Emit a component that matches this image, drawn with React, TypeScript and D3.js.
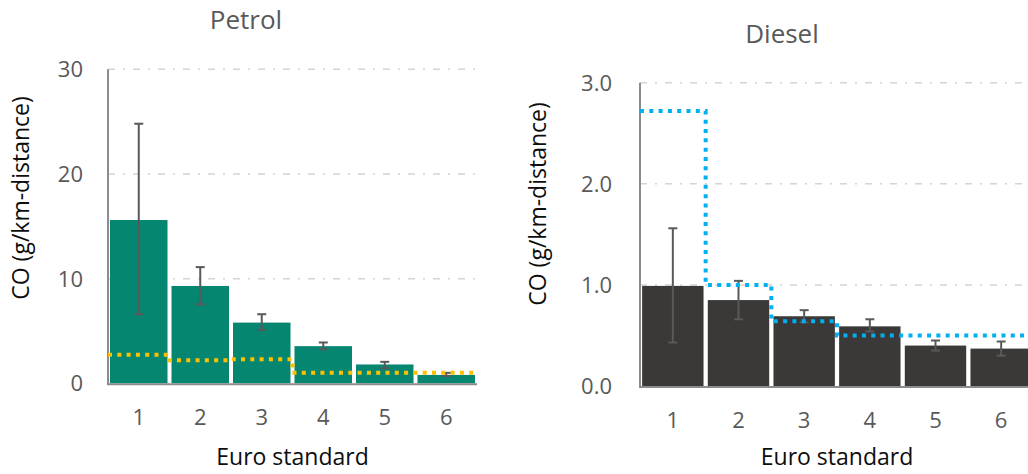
import React from "react";
import * as d3 from "d3";

// Euro standards on the x axis
const euroStandards = ["1", "2", "3", "4", "5", "6"];

// Petrol: mean CO per km and the spread shown by the error bars
const petrolMean = [15.6, 9.3, 5.8, 3.55, 1.8, 0.8];
const petrolHigh = [24.8, 11.1, 6.6, 3.9, 2.05, 1.0];
const petrolLow = [6.6, 7.55, 5.1, 3.25, 1.45, 0.7];
// Type-approval limits for petrol cars (g/km)
const petrolLimit = [2.72, 2.2, 2.3, 1.0, 1.0, 1.0];
const petrolTicks = [0, 10, 20, 30];

// Diesel: mean CO per km and error-bar spread
const dieselMean = [0.99, 0.85, 0.69, 0.59, 0.4, 0.37];
const dieselHigh = [1.56, 1.04, 0.75, 0.66, 0.45, 0.44];
const dieselLow = [0.43, 0.66, 0.63, 0.54, 0.35, 0.3];
// Type-approval limits for diesel cars (g/km)
const dieselLimit = [2.72, 1.0, 0.64, 0.5, 0.5, 0.5];
const dieselTicks = [0, 1, 2, 3];

const FONT = "'Open Sans', 'Segoe UI', sans-serif";

type PanelProps = {
  title: string;
  titleX: number;
  titleY: number;
  left: number;
  right: number;
  top: number;
  bottom: number;
  yMax: number;
  ticks: number[];
  tickFmt: (v: number) => string;
  tickRight: number;
  yTitleX: number;
  yTitleY: number;
  xTickY: number;
  mean: number[];
  high: number[];
  low: number[];
  limit: number[];
  barColor: string;
  limitColor: string;
};

function Panel(p: PanelProps) {
  const x = d3
    .scaleBand<string>()
    .domain(euroStandards)
    .range([p.left, p.right])
    .paddingInner(0.065)
    .paddingOuter(0.0325);
  const y = d3.scaleLinear().domain([0, p.yMax]).range([p.bottom, p.top]);

  const step = x.step();
  const start = p.left;
  // Limit values as a step line across each Euro band
  const stepPts: [number, number][] = p.limit.map((v, i) => [start + i * step, y(v)]);
  stepPts.push([p.right, y(p.limit[p.limit.length - 1])]);
  const stepPath = d3.line().curve(d3.curveStepAfter)(stepPts) || "";

  const cx = (c: string) => (x(c) as number) + x.bandwidth() / 2;
  const capW = 4.5;

  return (
    <g>
      <text
        x={p.titleX}
        y={p.titleY}
        textAnchor="middle"
        fontSize={26}
        fill="#595959"
        fontFamily={FONT}
      >
        {p.title}
      </text>

      {/* horizontal gridlines */}
      {p.ticks
        .filter((t) => t > 0)
        .map((t) => (
          <line
            key={"g" + t}
            x1={p.left}
            x2={p.right}
            y1={y(t)}
            y2={y(t)}
            stroke="#d4d4d4"
            strokeWidth={1.5}
            strokeDasharray="7 8 2 8"
          />
        ))}

      {/* y tick labels */}
      {p.ticks.map((t) => (
        <text
          key={"t" + t}
          x={p.tickRight}
          y={y(t)}
          dy="0.36em"
          textAnchor="end"
          fontSize={22}
          fill="#595959"
          fontFamily={FONT}
        >
          {p.tickFmt(t)}
        </text>
      ))}

      {/* bars */}
      {euroStandards.map((c, i) => (
        <rect
          key={"b" + c}
          x={x(c)}
          y={y(p.mean[i])}
          width={x.bandwidth()}
          height={y(0) - y(p.mean[i])}
          fill={p.barColor}
        />
      ))}

      {/* error bars */}
      {euroStandards.map((c, i) => (
        <g key={"e" + c} stroke="#595959" strokeWidth={2}>
          <line x1={cx(c)} x2={cx(c)} y1={y(p.high[i])} y2={y(p.low[i])} />
          <line x1={cx(c) - capW} x2={cx(c) + capW} y1={y(p.high[i])} y2={y(p.high[i])} />
          <line x1={cx(c) - capW} x2={cx(c) + capW} y1={y(p.low[i])} y2={y(p.low[i])} />
        </g>
      ))}

      {/* axes */}
      <line x1={p.left} x2={p.left} y1={p.top} y2={p.bottom + 1} stroke="#8c8c8c" strokeWidth={2} />
      <line x1={p.left - 1} x2={p.right} y1={p.bottom + 1} y2={p.bottom + 1} stroke="#8c8c8c" strokeWidth={2} />

      {/* limit step line */}
      <path
        d={stepPath}
        fill="none"
        stroke={p.limitColor}
        strokeWidth={4}
        strokeDasharray="4 5.3"
      />

      {/* x tick labels */}
      {euroStandards.map((c) => (
        <text
          key={"x" + c}
          x={cx(c)}
          y={p.xTickY}
          textAnchor="middle"
          fontSize={22}
          fill="#595959"
          fontFamily={FONT}
        >
          {c}
        </text>
      ))}

      <text
        x={(p.left + p.right) / 2}
        y={465}
        textAnchor="middle"
        fontSize={23}
        fill="#0d0d0d"
        fontFamily={FONT}
      >
        Euro standard
      </text>

      <text
        transform={`translate(${p.yTitleX},${p.yTitleY}) rotate(-90)`}
        textAnchor="middle"
        fontSize={23}
        fill="#0d0d0d"
        fontFamily={FONT}
      >
        CO (g/km-distance)
      </text>
    </g>
  );
}

export default function App() {
  return (
    <svg
      width={1028}
      height={474}
      style={{ position: "absolute", left: 0, top: 0, background: "#fff" }}
    >
      <rect width={1028} height={474} fill="#fff" />
      <Panel
        title="Petrol"
        titleX={246}
        titleY={29}
        left={108}
        right={477}
        top={69.3}
        bottom={383.3}
        yMax={30}
        ticks={petrolTicks}
        tickFmt={(v) => String(v)}
        tickRight={83}
        yTitleX={29}
        yTitleY={198}
        xTickY={425}
        mean={petrolMean}
        high={petrolHigh}
        low={petrolLow}
        limit={petrolLimit}
        barColor="#058670"
        limitColor="#FFC000"
      />
      <Panel
        title="Diesel"
        titleX={782}
        titleY={43}
        left={640}
        right={1034}
        top={82.7}
        bottom={386}
        yMax={3}
        ticks={dieselTicks}
        tickFmt={(v) => v.toFixed(1)}
        tickRight={612}
        yTitleX={546}
        yTitleY={204}
        xTickY={428}
        mean={dieselMean}
        high={dieselHigh}
        low={dieselLow}
        limit={dieselLimit}
        barColor="#3a3938"
        limitColor="#00B0F0"
      />
    </svg>
  );
}
